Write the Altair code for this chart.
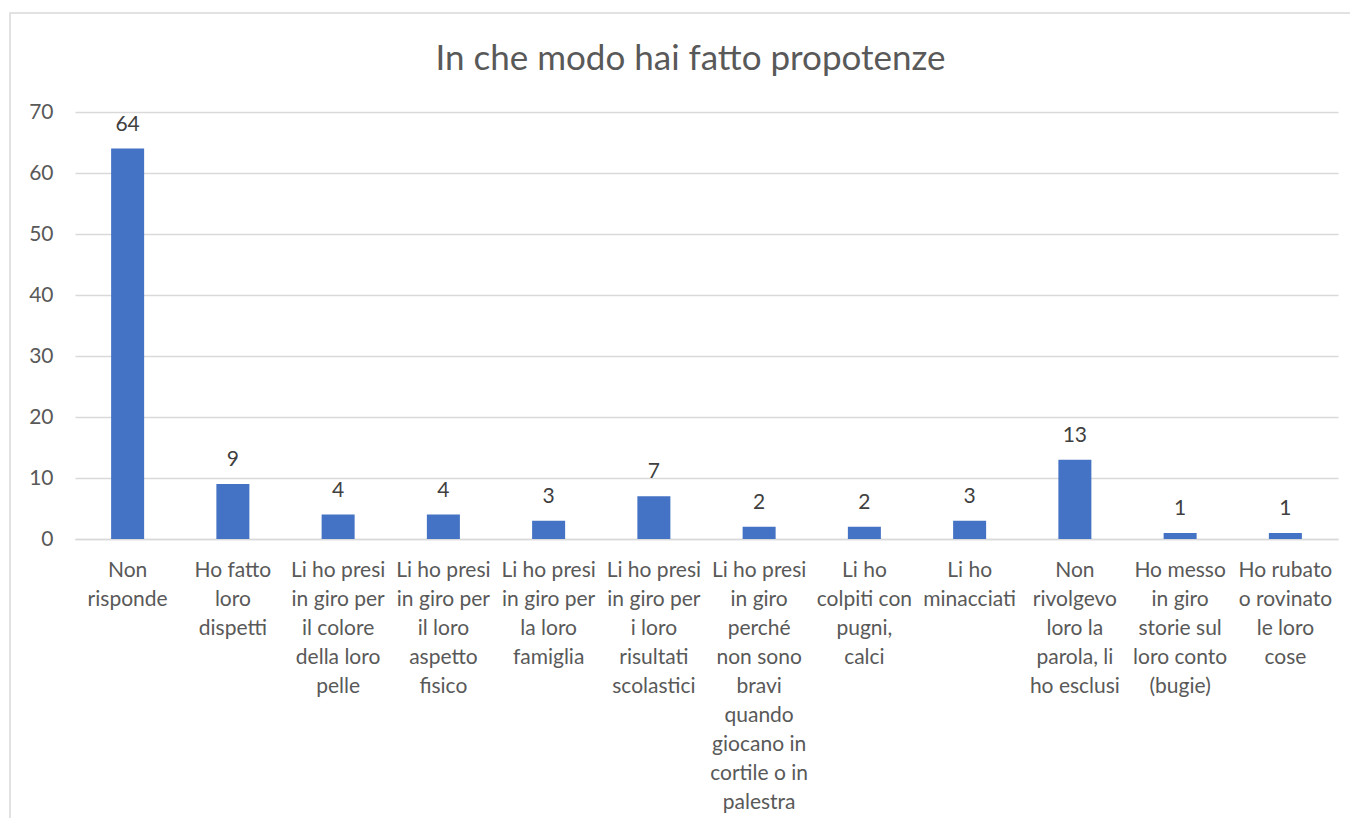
import altair as alt
import pandas as pd

categories = [
    "Non\nrisponde",
    "Ho fatto\nloro\ndispetti",
    "Li ho presi\nin giro per\nil colore\ndella loro\npelle",
    "Li ho presi\nin giro per\nil loro\naspetto\nfisico",
    "Li ho presi\nin giro per\nla loro\nfamiglia",
    "Li ho presi\nin giro per\ni loro\nrisultati\nscolastici",
    "Li ho presi\nin giro\nperché\nnon sono\nbravi\nquando\ngiocano in\ncortile o in\npalestra",
    "Li ho\ncolpiti con\npugni,\ncalci",
    "Li ho\nminacciati",
    "Non\nrivolgevo\nloro la\nparola, li\nho esclusi",
    "Ho messo\nin giro\nstorie sul\nloro conto\n(bugie)",
    "Ho rubato\no rovinato\nle loro\ncose",
]
values = [64, 9, 4, 4, 3, 7, 2, 2, 3, 13, 1, 1]
y_ticks = [0, 10, 20, 30, 40, 50, 60, 70]
title_text = "In che modo hai fatto propotenze"

df = pd.DataFrame({"cat": categories, "val": values})

FONT = "Lato"
GREY = "#595959"

x_enc = alt.X(
    "cat:N",
    sort=None,
    title=None,
    scale=alt.Scale(paddingInner=0, paddingOuter=0),
    axis=alt.Axis(
        labelExpr="split(datum.label, '\\n')",
        labelAngle=0,
        labelFont=FONT,
        labelFontSize=21,
        labelColor=GREY,
        labelLineHeight=29,
        labelBaseline="top",
        labelPadding=20,
        labelLimit=300,
        labelOverlap=False,
        ticks=False,
        domain=True,
        domainColor="#d9d9d9",
        domainWidth=1.5,
        grid=False,
    ),
)
y_enc = alt.Y(
    "val:Q",
    title=None,
    scale=alt.Scale(domain=[0, 70], nice=False),
    axis=alt.Axis(
        values=y_ticks,
        labelFont=FONT,
        labelFontSize=21,
        labelColor=GREY,
        labelPadding=22,
        ticks=False,
        domain=False,
        grid=True,
        gridColor="#d9d9d9",
        gridWidth=1.5,
    ),
)

base = alt.Chart(df)
bars = base.mark_bar(color="#4472C4", size=33).encode(x=x_enc, y=y_enc)
labels = base.mark_text(
    font=FONT, fontSize=21, color="#404040", baseline="bottom", dy=-14
).encode(x=alt.X("cat:N", sort=None), y="val:Q", text="val:Q")

border = alt.Chart(pd.DataFrame({"a": [0]})).mark_rect(
    fill=None, stroke="#d9d9d9", strokeWidth=1.5
).encode(
    x=alt.value(-65), x2=alt.value(1400), y=alt.value(-99), y2=alt.value(1000)
)

chart = (
    alt.layer(border, bars, labels)
    .properties(
        width=1263,
        height=427,
        autosize=alt.AutoSizeParams(type="none"),
        padding={"left": 67, "top": 104, "right": 12, "bottom": 279},
        title=alt.TitleParams(
            title_text,
            font=FONT,
            fontSize=35,
            fontWeight="normal",
            color=GREY,
            anchor="middle",
            baseline="middle",
            offset=-82,
            dx=-16,
        ),
    )
    .configure_view(stroke=None)
)

chart.save("out.html", embed_options={"renderer": "svg", "actions": False})
